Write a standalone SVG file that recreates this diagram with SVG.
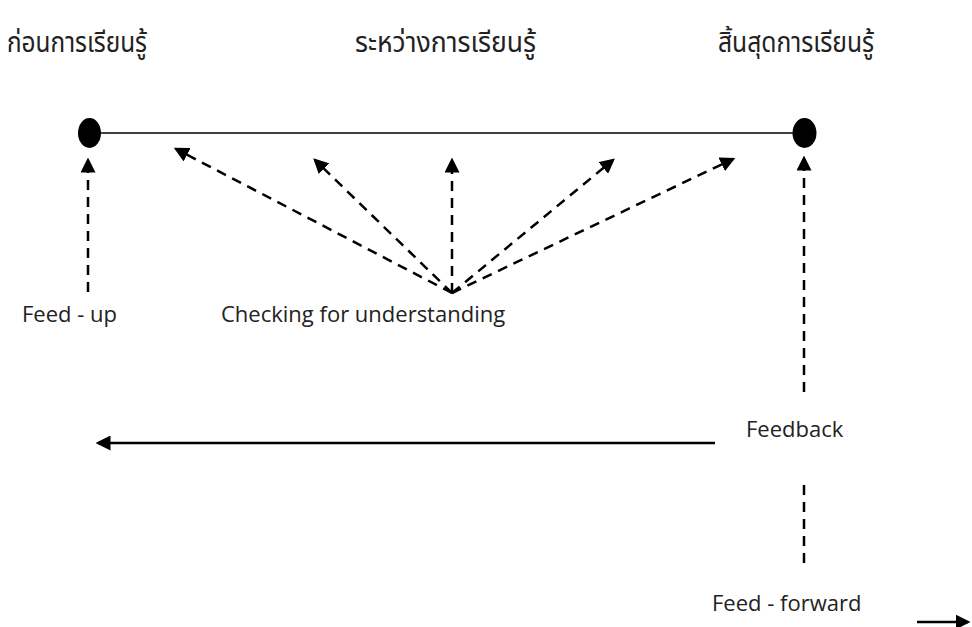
<svg xmlns="http://www.w3.org/2000/svg" width="972" height="627" viewBox="0 0 972 627">
<defs>
<marker id="ah" markerWidth="6" markerHeight="6" refX="5" refY="3" orient="auto" markerUnits="strokeWidth"><path d="M0,0 L6,3 L0,6 Z" fill="#000"/></marker>
<style>
.th{font-family:"Noto Sans Thai","Noto Sans","DejaVu Sans",sans-serif;font-size:28px;fill:#222}
.en{font-family:"Open Sans","Noto Sans",sans-serif;font-size:22px;fill:#222}
.dash{stroke:#000;stroke-width:2.5;stroke-dasharray:10,7;fill:none;marker-end:url(#ah)}
.dashn{stroke:#000;stroke-width:2.5;stroke-dasharray:10,7;fill:none}
.solid{stroke:#000;stroke-width:2.5;fill:none;marker-end:url(#ah)}
</style>
</defs>
<rect width="972" height="627" fill="#fff"/>
<g id="labels-top">
<text class="th" transform="translate(7,52) scale(0.87,1)">ก่อนการเรียนรู้</text>
<text class="th" transform="translate(355,52) scale(0.95,1)">ระหว่างการเรียนรู้</text>
<text class="th" transform="translate(718,52) scale(0.88,1)">สิ้นสุดการเรียนรู้</text>
</g>
<g id="timeline">
<line x1="89" y1="133" x2="804" y2="133" stroke="#000" stroke-width="1.5"/>
<ellipse id="start" cx="89.5" cy="133" rx="11.5" ry="15" fill="#000"/>
<ellipse id="end" cx="804.5" cy="133" rx="12" ry="15" fill="#000"/>
</g>
<g id="connectors">
<line class="dash" x1="88" y1="292" x2="88" y2="160"/>
<line class="dash" x1="452" y1="293" x2="176" y2="149"/>
<line class="dash" x1="452" y1="293" x2="315" y2="160"/>
<line class="dash" x1="452" y1="293" x2="452" y2="160"/>
<line class="dash" x1="452" y1="293" x2="613" y2="160"/>
<line class="dash" x1="452" y1="293" x2="733" y2="159"/>
<line class="dash" x1="804" y1="392" x2="804" y2="158"/>
<line class="solid" x1="715" y1="443" x2="98" y2="443"/>
<line class="dashn" x1="804" y1="485" x2="804" y2="566"/>
<line class="solid" x1="917" y1="622" x2="968" y2="622"/>
</g>
<g id="feed-up"><text class="en" x="22" y="322">Feed - up</text></g>
<g id="checking"><text class="en" x="221" y="322">Checking for understanding</text></g>
<g id="feedback"><text class="en" x="746" y="437">Feedback</text></g>
<g id="feed-forward"><text class="en" x="712" y="611">Feed - forward</text></g>
</svg>
